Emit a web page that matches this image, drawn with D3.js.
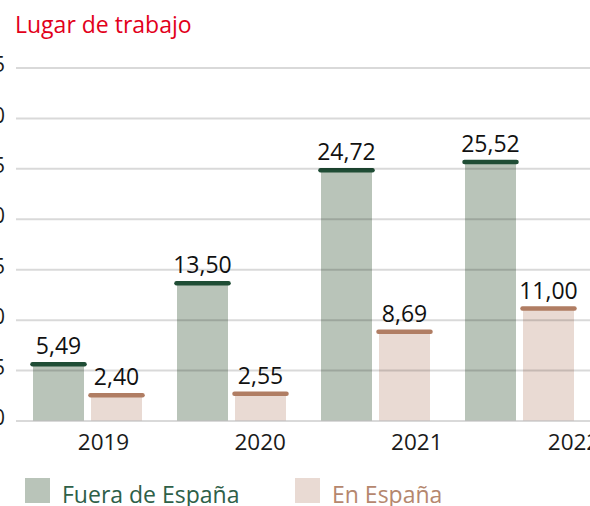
<!DOCTYPE html>
<html>
<head>
<meta charset="utf-8">
<script src="https://cdn.jsdelivr.net/npm/d3@7"></script>
<style>
  html, body { margin: 0; padding: 0; background: #ffffff; }
  svg { display: block; }
  text { font-family: "Open Sans", "Noto Sans", sans-serif; }
</style>
</head>
<body>
<svg id="chart" width="590" height="506"></svg>
<script>
const title = "Lugar de trabajo";
const years = ["2019", "2020", "2021", "2022"];
const seriesNames = ["Fuera de España", "En España"];
const fuera = [5.49, 13.50, 24.72, 25.52];
const espana = [2.40, 2.55, 8.69, 11.00];
const yTicks = [0, 5, 10, 15, 20, 25, 30, 35];

const barColors = ["#b9c4b9", "#e9dad3"];
const capColors = ["#1f4d35", "#b07d63"];
const legendText = ["#2e6048", "#b5876e"];

const svg = d3.select("#chart");
const fmt = v => d3.format(".2f")(v).replace(".", ",");

const y = d3.scaleLinear().domain([0, 35]).range([420.5, 67.5]);
const x0 = d3.scaleBand().domain(years).range([33, 574]).paddingInner(35 / 144).paddingOuter(0);
const x1 = d3.scaleBand().domain(seriesNames).range([0, x0.bandwidth()]).paddingInner(7 / 58).paddingOuter(0);
const xLab = d3.scalePoint().domain(years).range([103, 573]);

const data = years.map((yr, i) => ({ year: yr, values: [fuera[i], espana[i]] }));

// title
svg.append("text").attr("x", 15).attr("y", 33)
  .attr("fill", "#e2001a").attr("font-size", 23).text(title);

// bars
const groups = svg.append("g").selectAll("g").data(data).join("g")
  .attr("transform", d => `translate(${x0(d.year)},0)`);

groups.selectAll("rect").data(d => d.values.map((v, k) => ({ v, k })))
  .join("rect")
  .attr("x", d => x1(seriesNames[d.k]))
  .attr("width", x1.bandwidth())
  .attr("y", d => y(d.v))
  .attr("height", d => y(0) - y(d.v))
  .attr("fill", d => barColors[d.k]);

// gridlines (over bars)
const yAxis = d3.axisLeft(y).tickValues(yTicks).tickSize(-574).tickPadding(11).tickFormat(d3.format("d"));
const gy = svg.append("g").attr("transform", "translate(16,0)").call(yAxis);
gy.select(".domain").remove();
gy.selectAll(".tick line").attr("stroke", "rgba(0,0,0,0.15)").attr("stroke-width", 2);
gy.selectAll(".tick text").attr("font-size", 21).attr("fill", "#1a1a1a")
  .attr("font-family", "'Open Sans', sans-serif").attr("dy", "0.2em");

// caps
groups.selectAll("line.cap").data(d => d.values.map((v, k) => ({ v, k })))
  .join("line").attr("class", "cap")
  .attr("x1", d => x1(seriesNames[d.k]) - 0.5)
  .attr("x2", d => x1(seriesNames[d.k]) + x1.bandwidth() + 0.5)
  .attr("y1", d => y(d.v) - 1).attr("y2", d => y(d.v) - 1)
  .attr("stroke", d => capColors[d.k]).attr("stroke-width", 4.5)
  .attr("stroke-linecap", "round");

// value labels
groups.selectAll("text.val").data(d => d.values.map((v, k) => ({ v, k })))
  .join("text").attr("class", "val")
  .attr("x", d => x1(seriesNames[d.k]) + x1.bandwidth() / 2)
  .attr("y", d => y(d.v) - 11)
  .attr("text-anchor", "middle")
  .attr("font-size", 23).attr("fill", "#111")
  .text(d => fmt(d.v));

// x labels
const xAxis = d3.axisBottom(xLab).tickSize(0).tickPadding(0);
const gx = svg.append("g").attr("transform", "translate(0,433)").call(xAxis);
gx.select(".domain").remove();
gx.selectAll(".tick text").attr("font-size", 22.5).attr("fill", "#1a1a1a")
  .attr("font-family", "'Open Sans', sans-serif").attr("dy", "0.76em");

// legend
const legendX = [25, 295];
const lg = svg.append("g").selectAll("g").data(seriesNames).join("g")
  .attr("transform", (d, i) => `translate(${legendX[i]},478)`);
lg.append("rect").attr("width", 25).attr("height", 25).attr("fill", (d, i) => barColors[i]);
lg.append("text").attr("x", 37).attr("y", 24.5).attr("font-size", 23)
  .attr("fill", (d, i) => legendText[i]).text(d => d);
</script>
</body>
</html>
